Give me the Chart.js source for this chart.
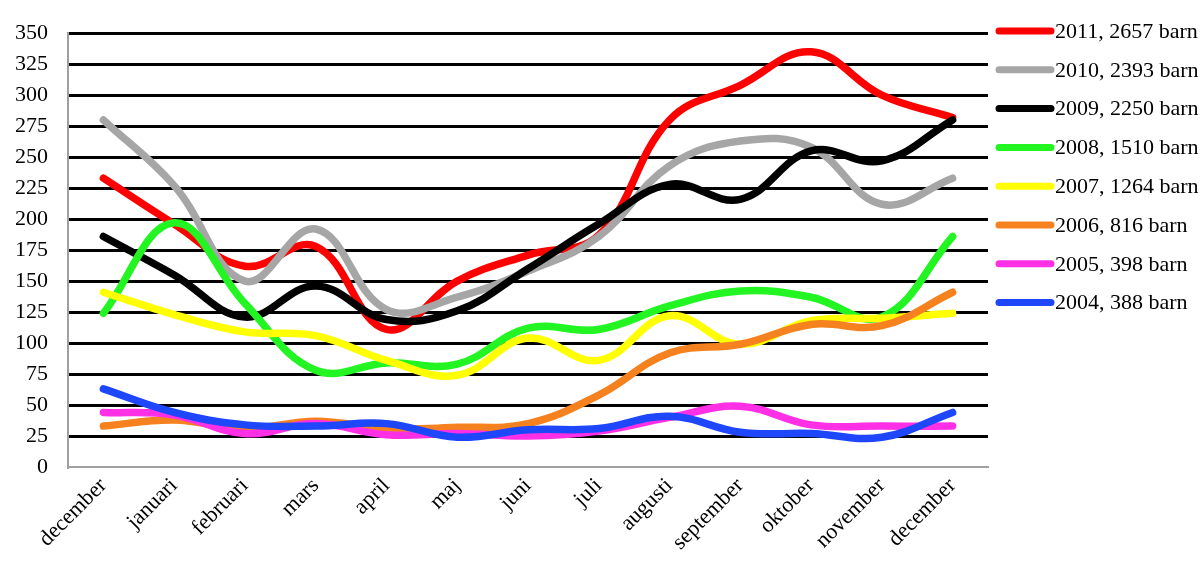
<!DOCTYPE html>
<html>
<head>
<meta charset="utf-8">
<script src="https://cdn.jsdelivr.net/npm/chart.js@4/dist/chart.umd.min.js"></script>
<style>
  body { margin: 0; background: #fff; }
  canvas { display: block; }
</style>
</head>
<body>
<canvas id="chart" width="1202" height="563"></canvas>
<script>
const months = ["december", "januari", "februari", "mars", "april", "maj", "juni", "juli", "augusti", "september", "oktober", "november", "december"];

const seriesLabels = ["2011, 2657 barn", "2010, 2393 barn", "2009, 2250 barn", "2008, 1510 barn", "2007, 1264 barn", "2006, 816 barn", "2005, 398 barn", "2004, 388 barn"];
const seriesColors = ["#ff0000", "#a6a6a6", "#000000", "#22f522", "#ffff00", "#f5821f", "#ff2fe6", "#1e46fa"];

const y2011 = [233, 196, 162, 178, 111, 150, 171, 187, 280, 308, 335, 300, 282];
const y2010 = [280, 227, 150, 192, 127, 137, 158, 186, 243, 263, 258, 212, 233];
const y2009 = [186, 155, 121, 146, 119, 126, 160, 196, 228, 216, 255, 247, 280];
const y2008 = [124, 197, 132, 78, 84, 83, 112, 111, 130, 142, 137, 121, 186];
const y2007 = [141, 123, 109, 106, 86, 74, 104, 86, 122, 99, 118, 120, 124];
const y2006 = [33, 38, 31, 37, 31, 32, 35, 58, 92, 99, 115, 114, 141];
const y2005 = [44, 42, 27, 35, 26, 27, 25, 29, 40, 49, 34, 33, 33];
const y2004 = [63, 44, 34, 33, 35, 24, 30, 31, 41, 28, 27, 24, 44];

const seriesValues = [y2011, y2010, y2009, y2008, y2007, y2006, y2005, y2004];

const serif = "'Liberation Serif', 'Times New Roman', serif";

// legend drawn at the right like the original
const sideLegend = {
  id: "sideLegend",
  afterDraw(chart) {
    const ctx = chart.ctx;
    ctx.save();
    seriesLabels.forEach((label, i) => {
      const y = 31 + i * 38.8;
      ctx.strokeStyle = seriesColors[i];
      ctx.lineWidth = 7;
      ctx.lineCap = "round";
      ctx.beginPath();
      ctx.moveTo(999, y);
      ctx.lineTo(1051, y);
      ctx.stroke();
      ctx.fillStyle = "#000";
      ctx.font = "22px " + serif;
      ctx.textBaseline = "middle";
      ctx.textAlign = "left";
      ctx.fillText(label, 1055, y + 1);
    });
    ctx.restore();
  }
};

const ctx = document.getElementById("chart").getContext("2d");
new Chart(ctx, {
  type: "line",
  data: {
    labels: months,
    datasets: seriesValues.map((vals, i) => ({
      label: seriesLabels[i],
      data: vals,
      borderColor: seriesColors[i],
      backgroundColor: seriesColors[i],
      borderWidth: 7.5,
      borderCapStyle: "round",
      borderJoinStyle: "round",
      tension: 0.4,
      pointRadius: 0,
      fill: false,
      order: seriesValues.length - 1 - i,
    })),
  },
  options: {
    responsive: false,
    animation: false,
    layout: { padding: { top: 24, right: 214, left: 0, bottom: 0 } },
    plugins: {
      legend: { display: false },
      tooltip: { enabled: false },
    },
    scales: {
      x: {
        offset: true,
        grid: { display: false, drawTicks: false },
        border: { display: true, color: "#a0a0a0", width: 2 },
        ticks: {
          color: "#000",
          font: { family: serif, size: 22 },
          maxRotation: 45,
          minRotation: 45,
          autoSkip: false,
          padding: 6,
        },
        afterFit: (scale) => { scale.height = 96; },
      },
      y: {
        min: 0,
        max: 350,
        grid: {
          color: (c) => (c.tick && c.tick.value === 0 ? "rgba(0,0,0,0)" : "#000"),
          lineWidth: 3,
          drawTicks: false,
        },
        border: { display: true, color: "#a0a0a0", width: 2 },
        ticks: {
          stepSize: 25,
          color: "#000",
          font: { family: serif, size: 22 },
          padding: 20,
        },
        afterFit: (scale) => { scale.width = 68; },
      },
    },
  },
  plugins: [sideLegend],
});
</script>
</body>
</html>
